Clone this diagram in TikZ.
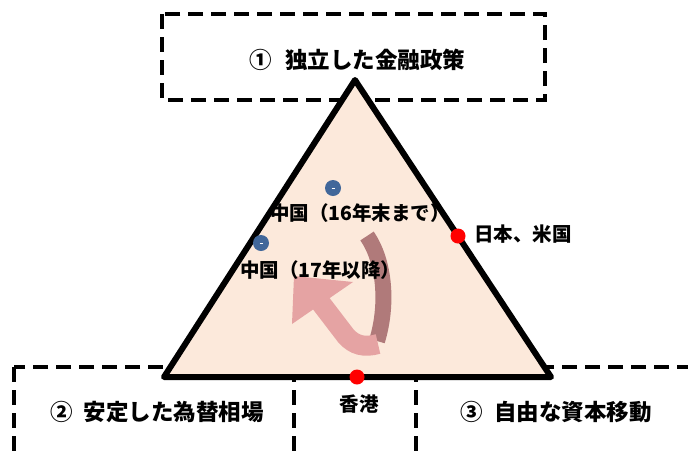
\documentclass[tikz,border=0pt]{standalone}
\usepackage{fontspec}
\newfontfamily\jp{Noto Sans CJK JP}
\definecolor{peach}{RGB}{252,233,219}
\definecolor{dotblue}{RGB}{65,103,154}
\definecolor{darkmauve}{RGB}{176,122,122}
\definecolor{lightmauve}{RGB}{229,163,163}
\tikzset{
  dashbox/.style={draw=black, line width=4pt, dash pattern=on 15pt off 8pt},
  bigtext/.style={font=\jp\bfseries\fontsize{22.5}{22.5}\selectfont, inner sep=0pt},
  smalltext/.style={font=\jp\bfseries\fontsize{19.5}{19.5}\selectfont, inner sep=0pt},
  bluedot/.style={circle, fill=dotblue, minimum size=16pt, inner sep=0pt},
  reddot/.style={circle, fill=red, minimum size=15pt, inner sep=0pt}
}
\begin{document}
\begin{tikzpicture}[x=1pt,y=-1pt]
\useasboundingbox (0,0) rectangle (688,451);
\clip (0,0) rectangle (688,451);
% boxes
\draw[dashbox] (162,14) rectangle (545,100);
\draw[dashbox] (14,367) rectangle (700,480);
\draw[dashbox] (294,367) -- (294,480);
\draw[dashbox] (416,367) -- (416,480);
% triangle
\coordinate (A) at (355,80);
\coordinate (B) at (164,377);
\coordinate (C) at (551,377);
\draw[fill=peach, line width=6pt, line join=round] (A) -- (B) -- (C) -- cycle;
% arrow
\draw[darkmauve, line width=16pt] (367,236) .. controls (385,262) and (388,305) .. (377,341);
\draw[lightmauve, line width=20pt] (378,344) .. controls (364,348) and (354,345) .. (346,336) -- (320,302);
\fill[lightmauve] (294,276) -- (353,282) -- (292,324) -- cycle;
% dots
\node[bluedot] (b1) at (333,188) {};
\node[bluedot] (b2) at (261,243) {};
\draw[white, line width=1pt] ([xshift=-1.5pt]b1.center) -- ([xshift=1.5pt]b1.center);
\draw[white, line width=1pt] ([xshift=-1.5pt]b2.center) -- ([xshift=1.5pt]b2.center);
\node[reddot] (r1) at (458,236) {};
\node[reddot] (r2) at (357,377) {};
% texts
\node[bigtext] (t1) at (357,60) {①\hspace{0.6em}独立した金融政策};
\node[bigtext] (t2) at (157,412) {②\hspace{0.5em}安定した為替相場};
\node[bigtext] (t3) at (556,412) {③\hspace{0.5em}自由な資本移動};
\node[smalltext] (hk) at (359,404) {香港};
\node[smalltext, anchor=west] (jp) at (474,234) {日本、米国};
\node[smalltext, anchor=west] (c16) at (270,213) {中国（16年末まで）};
\node[smalltext, anchor=west] (c17) at (240,270) {中国（17年以降）};
\end{tikzpicture}
\end{document}
